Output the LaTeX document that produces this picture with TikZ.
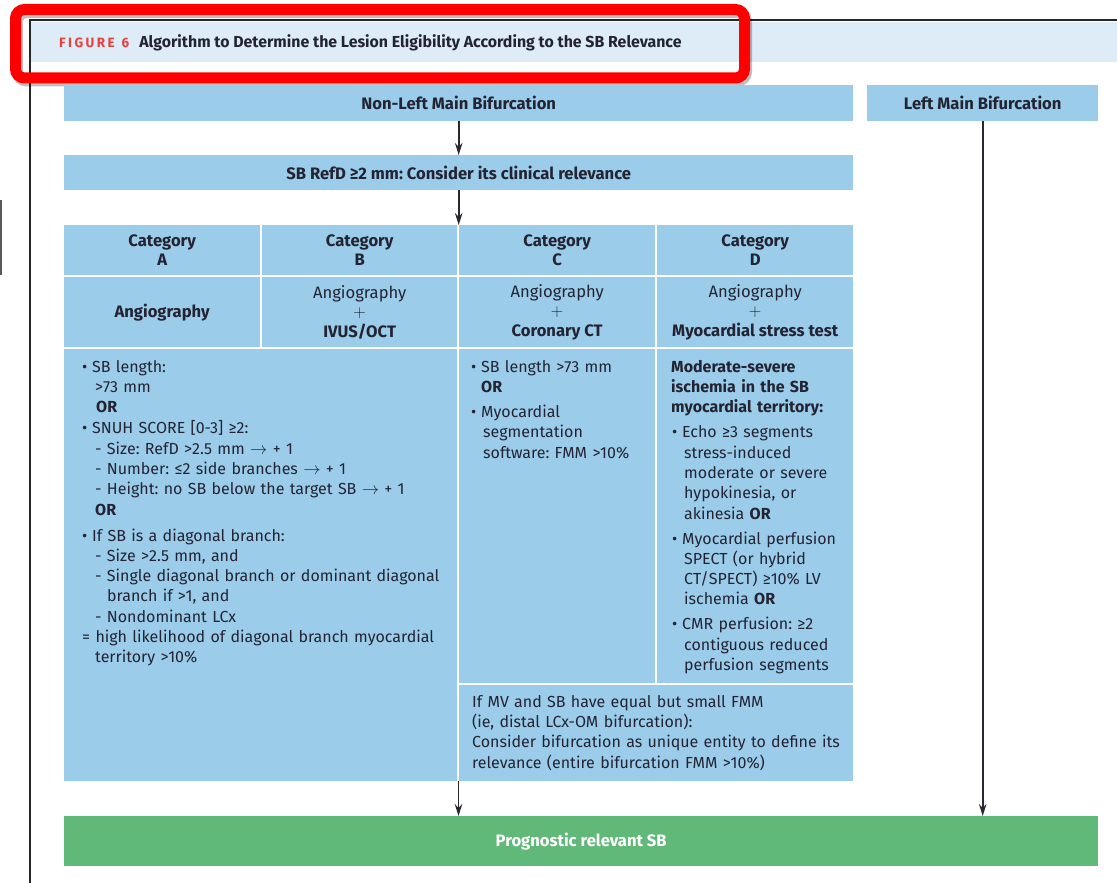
\documentclass[tikz,border=0pt]{standalone}
\usepackage{fontspec}
\setmainfont{Fira Sans}
\usetikzlibrary{arrows.meta}
\definecolor{boxblue}{RGB}{155,205,235}
\definecolor{txt}{RGB}{35,35,50}
\definecolor{grn}{RGB}{96,185,120}
\definecolor{band}{RGB}{222,236,248}
\definecolor{figred}{RGB}{232,65,60}
\definecolor{arrcol}{RGB}{40,40,48}
\newcommand\bul{\makebox[10pt][l]{•}}
\newcommand\ar{$\rightarrow$}
\newcommand\plus{$+$}
\frenchspacing
\begin{document}
\begin{tikzpicture}[x=1pt,y=-1pt,
  box/.style={fill=boxblue, draw=none, inner sep=0pt, anchor=north west, text=txt, align=center,
              font=\bfseries\fontsize{16.6}{19.5}\selectfont},
  celltxt/.style={anchor=north west, inner sep=0pt, align=left, text=txt, text width=380pt,
              font=\fontsize{16}{20.3}\selectfont},
  arr/.style={draw=arrcol, line width=1.6pt, -{Stealth[length=12pt,width=7.5pt]}}]
\useasboundingbox (0,0) rectangle (1117,883);
% frame and title band
\fill[band] (31,22) rectangle (1117,62);
\draw[line width=1.6pt, black!85] (30,883) -- (30,20) -- (1117,20);
\draw[line width=1.5pt, black!65] (0.75,200) -- (0.75,275);
\node[anchor=west, inner sep=0pt, text=txt, font=\bfseries\fontsize{15.9}{17}\selectfont] (title) at (59,43)
  {{\color{figred}\fontsize{13.5}{14}\selectfont F\kern2.4pt I\kern2.4pt G\kern2.4pt U\kern2.4pt R\kern2.4pt E\hspace{7pt}6}\hspace{10pt}Algorithm to Determine the Lesion Eligibility According to the SB Relevance};
% red annotation frame
\draw[black, opacity=0.25, line width=11pt, rounded corners=9pt] (17.5,12.5) rectangle (746.5,81);
\draw[red, line width=11pt, rounded corners=9pt] (15.5,9.5) rectangle (744.5,78);
% top boxes
\node[box, minimum width=789pt, minimum height=36pt] (nlm) at (64,85) {Non-Left Main Bifurcation};
\node[box, minimum width=231pt, minimum height=36pt] (lm) at (867,85) {Left Main Bifurcation};
\node[box, minimum width=789pt, minimum height=35pt] (ref) at (64,155) {SB RefD ≥2 mm: Consider its clinical relevance};
% category row
\node[box, minimum width=196pt, minimum height=50pt] (catA) at (64,225) {Category\\A};
\node[box, minimum width=195pt, minimum height=50pt] (catB) at (262,225) {Category\\B};
\node[box, minimum width=196pt, minimum height=50pt] (catC) at (459,225) {Category\\C};
\node[box, minimum width=196pt, minimum height=50pt] (catD) at (657,225) {Category\\D};
% modality row
\node[box, minimum width=196pt, minimum height=70pt] (modA) at (64,277) {Angiography};
\node[box, minimum width=195pt, minimum height=70pt] (modB) at (262,277) {\mdseries Angiography\\\mdseries\plus\\IVUS/OCT};
\node[box, minimum width=196pt, minimum height=70pt] (modC) at (459,277) {\mdseries Angiography\\\mdseries\plus\\Coronary CT};
\node[box, minimum width=196pt, minimum height=70pt] (modD) at (657,277) {\mdseries Angiography\\\mdseries\plus\\Myocardial stress test};
% content cells
\node[box, minimum width=393pt, minimum height=432pt] (ab) at (64,349) {};
\node[box, minimum width=196pt, minimum height=334pt] (cc) at (459,349) {};
\node[box, minimum width=196pt, minimum height=334pt] (dd) at (657,349) {};
\node[box, minimum width=394pt, minimum height=96pt] (note) at (459,685) {};
\node[celltxt] (abtxt) at (82,357.8) {\strut\bul SB length:\\
\hspace*{13pt}>73 mm\\
\hspace*{14pt}\textbf{OR}\\[0.7pt]
\bul SNUH SCORE [0-3] ≥2:\\
\hspace*{13pt}- Size: RefD >2.5 mm \ar{} + 1\\
\hspace*{13pt}- Number: ≤2 side branches \ar{} + 1\\
\hspace*{13pt}- Height: no SB below the target SB \ar{} + 1\\
\hspace*{13pt}\textbf{OR}\\[5.7pt]
\bul If SB is a diagonal branch:\\
\hspace*{13pt}- Size >2.5 mm, and\\
\hspace*{13pt}- Single diagonal branch or dominant diagonal\\
\hspace*{25pt}branch if >1, and\\
\hspace*{13pt}- Nondominant LCx\\
= high likelihood of diagonal branch myocardial\\
\hspace*{13pt}territory >10\%};
\node[celltxt, text width=180pt] (cctxt) at (471,357.8) {\strut\bul SB length >73 mm\\
\hspace*{10pt}\textbf{OR}\\[4.7pt]
\bul Myocardial\\
\hspace*{12pt}segmentation\\
\hspace*{12pt}software: FMM >10\%};
\node[celltxt, text width=185pt] (ddtxt) at (671,357.8) {\strut\textbf{Moderate-severe}\\
\textbf{ischemia in the SB}\\
\textbf{myocardial territory:}\\[4.7pt]
\hspace*{1pt}\bul Echo ≥3 segments\\
\hspace*{13pt}stress-induced\\
\hspace*{13pt}moderate or severe\\
\hspace*{13pt}hypokinesia, or\\
\hspace*{13pt}akinesia \textbf{OR}\\[4.7pt]
\hspace*{1pt}\bul Myocardial perfusion\\
\hspace*{13pt}SPECT (or hybrid\\
\hspace*{13pt}CT/SPECT) ≥10\% LV\\
\hspace*{13pt}ischemia \textbf{OR}\\[4.7pt]
\hspace*{1pt}\bul CMR perfusion: ≥2\\
\hspace*{13pt}contiguous reduced\\
\hspace*{13pt}perfusion segments};
\node[celltxt] (notetxt) at (472,692.8) {\strut If MV and SB have equal but small FMM\\
(ie, distal LCx-OM bifurcation):\\
Consider bifurcation as unique entity to define its\\
relevance (entire bifurcation FMM >10\%)};
% result
\node[box, fill=grn, text=white, minimum width=1034pt, minimum height=50pt] (res) at (64,816) {Prognostic relevant SB};
% connectors
\coordinate (mid) at (458.5,781);
\draw[arr] (nlm.south) -- (ref.north);
\draw[arr] (ref.south) -- (ref.south |- catA.north);
\draw[arr] (mid) -- (mid |- res.north);
\draw[arr] (lm.south) -- (lm.south |- res.north);
\end{tikzpicture}
\end{document}
